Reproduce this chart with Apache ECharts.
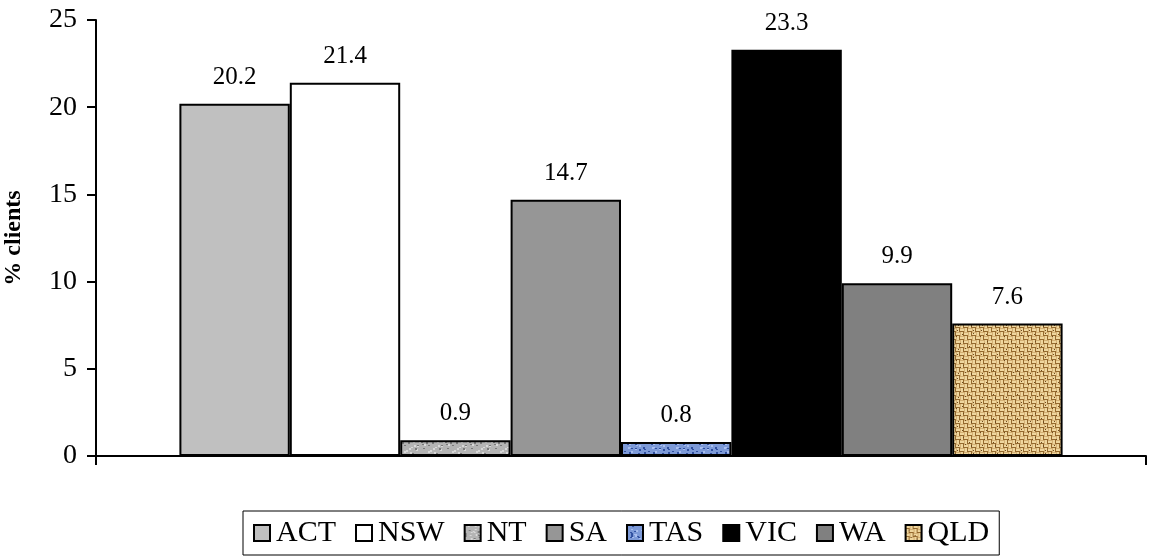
<!DOCTYPE html>
<html>
<head>
<meta charset="utf-8">
<script src="https://cdn.jsdelivr.net/npm/echarts@6/dist/echarts.min.js"></script>
<style>
html,body{margin:0;padding:0;background:#fff;}
#chart{width:1150px;height:558px;}
</style>
</head>
<body>
<div id="chart"></div>
<script>
const states = ['ACT','NSW','NT','SA','TAS','VIC','WA','QLD'];
const values = [20.2, 21.4, 0.9, 14.7, 0.8, 23.3, 9.9, 7.6];
const yTicks = [0, 5, 10, 15, 20, 25];
const yAxisTitle = '% clients';

function seeded(seed){ let s = seed; return function(){ s = (s*1103515245 + 12345) & 0x7fffffff; return s/0x7fffffff; }; }

function makeTexture(kind){
  const c = document.createElement('canvas');
  c.width = 24; c.height = 24;
  const g = c.getContext('2d');
  const rnd = seeded(kind === 'nt' ? 7 : kind === 'tas' ? 13 : 29);
  if (kind === 'nt' || kind === 'tas'){
    const base = kind === 'nt' ? '#b4b4b4' : '#7d9ad8';
    const dark = kind === 'nt' ? '#7a7a7a' : '#2f4f9f';
    const light = kind === 'nt' ? '#d8d8d8' : '#a9bff0';
    g.fillStyle = base; g.fillRect(0,0,24,24);
    for (let i=0;i<40;i++){
      const x = Math.floor(rnd()*24), y = Math.floor(rnd()*24);
      g.fillStyle = rnd() < 0.5 ? dark : light;
      g.fillRect(x, y, 2, 1 + Math.floor(rnd()*2));
    }
  } else {
    g.fillStyle = '#d4b074'; g.fillRect(0,0,24,24);
    for (let y=0;y<24;y+=4){
      for (let x=0;x<24;x+=4){
        const horiz = ((x+y)/4) % 2 === 0;
        g.fillStyle = '#efd69e';
        if (horiz) g.fillRect(x, y+1, 4, 2); else g.fillRect(x+1, y, 2, 4);
        g.fillStyle = '#94692e';
        if (horiz) g.fillRect(x, y+3, 4, 1); else g.fillRect(x+3, y, 1, 4);
      }
    }
    for (let i=0;i<12;i++){
      g.fillStyle = '#6e4a1e';
      g.fillRect(Math.floor(rnd()*24), Math.floor(rnd()*24), 1, 1);
    }
  }
  return {image: c, repeat: 'repeat'};
}

const fills = {
  ACT: '#c0c0c0',
  NSW: '#ffffff',
  NT: makeTexture('nt'),
  SA: '#969696',
  TAS: makeTexture('tas'),
  VIC: '#000000',
  WA: '#808080',
  QLD: makeTexture('qld')
};

const FONT = 'Liberation Serif';

const chart = echarts.init(document.getElementById('chart'), null, {renderer: 'canvas'});
const series = states.map((s, i) => ({
  name: s,
  type: 'bar',
  data: [values[i]],
  barWidth: 110.4,
  barGap: '0%',
  itemStyle: { color: fills[s], borderColor: '#000', borderWidth: 2 },
  label: {
    show: true, position: 'top', distance: 14,
    fontFamily: FONT, fontSize: 25, color: '#000',
    formatter: p => p.value.toFixed(1)
  },
  emphasis: { disabled: true }
}));

chart.setOption({
  backgroundColor: '#fff',
  animation: false,
  grid: { left: 96, right: 4, top: 20, bottom: 102, containLabel: false, outerBoundsMode: 'none' },
  xAxis: {
    type: 'category',
    data: [''],
    axisLine: { lineStyle: { color: '#000', width: 2 } },
    axisTick: { show: true, length: 9, lineStyle: { color: '#000', width: 2 } },
    axisLabel: { show: false },
    splitLine: { show: false }
  },
  yAxis: {
    type: 'value',
    min: yTicks[0], max: yTicks[yTicks.length-1], interval: 5,
    name: yAxisTitle,
    nameLocation: 'middle',
    nameGap: 70,
    nameRotate: 90,
    nameTextStyle: { fontFamily: FONT, fontSize: 24, fontWeight: 'bold', color: '#000' },
    axisLine: { show: true, lineStyle: { color: '#000', width: 2 } },
    axisTick: { show: true, length: 9, lineStyle: { color: '#000', width: 2 } },
    axisLabel: { fontFamily: FONT, fontSize: 28, color: '#000', margin: 19 },
    splitLine: { show: false }
  },
  legend: {
    data: states,
    bottom: 3,
    left: 243,
    orient: 'horizontal',
    itemWidth: 16, itemHeight: 16,
    itemGap: 19,
    padding: [7, 10, 7, 10],
    borderColor: '#000', borderWidth: 1,
    icon: 'rect',
    textStyle: { fontFamily: FONT, fontSize: 30, color: '#000', padding: [0,0,0,1] },
    selectedMode: false
  },
  series: series
});
</script>
</body>
</html>
